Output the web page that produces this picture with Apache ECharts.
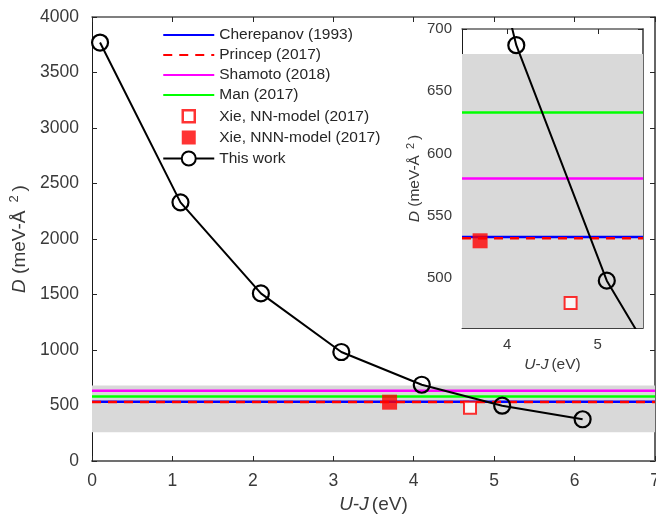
<!DOCTYPE html>
<html>
<head>
<meta charset="utf-8">
<script src="https://cdn.jsdelivr.net/npm/echarts@6/dist/echarts.min.js"></script>
<style>
html,body{margin:0;padding:0;background:#fff;}
#chart{width:656px;height:515px;}
</style>
</head>
<body>
<div id="chart"></div>
<script>
// ---- data ----
const thisWorkU = [0.1, 1.1, 2.1, 3.1, 4.1, 5.1, 6.1];
const thisWorkD = [3770, 2330, 1510, 982, 687, 498, 376];

const refNames = ['Cherepanov (1993)', 'Princep (2017)', 'Shamoto (2018)', 'Man (2017)'];
const refMain = [533, 532, 633, 580];    // values as drawn in main panel
const refInset = [533, 532, 580, 633];   // values as drawn in inset panel

const xieNN = [4.7, 480];
const xieNNN = [3.7, 530];
const band = [260, 680];

const mainXTicks = [0, 1, 2, 3, 4, 5, 6, 7];
const mainYTicks = [0, 500, 1000, 1500, 2000, 2500, 3000, 3500, 4000];
const insetXTicks = [4, 5];
const insetYTicks = [500, 550, 600, 650, 700];
const mainRange = {x: [0, 7], y: [0, 4000]};
const insetRange = {x: [3.5, 5.5], y: [460, 700]};

// ---- styling ----
const FONT = "'Liberation Sans', Arial, Helvetica, sans-serif";
const TXT = '#3a3a3a';
const refColors = ['#0000ff', '#ff0000', '#ff00ff', '#00ff00'];
const refTypes = ['solid', [9, 7], 'solid', 'solid'];

const chart = echarts.init(document.getElementById('chart'), null, {renderer: 'canvas'});

const plain = v => String(v);

function mkX(grid, range, ticks, pos, showLabel, lineColor, lineWidth, fs, name, nameGap, margin, nameFs) {
  return {
    type: 'value', gridIndex: grid, position: pos, min: range[0], max: range[1],
    name: name || '', nameLocation: 'middle', nameGap: nameGap || 0,
    nameTextStyle: {fontFamily: FONT, fontSize: nameFs, color: TXT,
      rich: {i: {fontStyle: 'italic', fontFamily: FONT, fontSize: nameFs, color: TXT},
             n: {fontFamily: FONT, fontSize: nameFs, color: TXT, padding: [0, 0, 0, 3]}}},
    axisLine: {show: true, onZero: false, lineStyle: {color: lineColor, width: lineWidth}},
    axisTick: {show: true, inside: true, length: 5, customValues: ticks, lineStyle: {color: '#262626', width: 1}},
    axisLabel: {show: showLabel, customValues: ticks, formatter: plain, margin: margin || 9, fontFamily: FONT, fontSize: fs, color: TXT},
    splitLine: {show: false}
  };
}
function mkY(grid, range, ticks, pos, showLabel, lineColor, lineWidth, fs, name, nameGap, margin, nameFs) {
  return {
    type: 'value', gridIndex: grid, position: pos, min: range[0], max: range[1],
    name: name || '', nameLocation: 'middle', nameGap: nameGap || 0, nameRotate: 90,
    nameTextStyle: {fontFamily: FONT, fontSize: nameFs, color: TXT,
      rich: {i: {fontStyle: 'italic', fontFamily: FONT, fontSize: nameFs, color: TXT},
             n: {fontFamily: FONT, fontSize: nameFs, color: TXT},
             s: {fontFamily: FONT, fontSize: Math.round(nameFs * 0.7), color: TXT,
                 padding: [0, Math.round(nameFs * 0.2), Math.round(nameFs * 0.6), Math.round(nameFs * 0.4)]}}},
    axisLine: {show: true, onZero: false, lineStyle: {color: lineColor, width: lineWidth}},
    axisTick: {show: true, inside: true, length: 5, customValues: ticks, lineStyle: {color: '#262626', width: 1}},
    axisLabel: {show: showLabel, customValues: ticks, formatter: plain, margin: margin || 10, fontFamily: FONT, fontSize: fs, color: TXT},
    splitLine: {show: false}
  };
}

const xLabelName = '{i|U}-{i|J}{n|(eV)}';
const yLabelName = '{i|D}{n| (meV-Å}{s|2}{n|)}';

const xAxes = [
  mkX(0, mainRange.x, mainXTicks, 'bottom', true, '#707070', 2, 17.5, xLabelName, 31, 11, 19),
  mkX(0, mainRange.x, mainXTicks, 'top', false, '#555555', 1.5, 17.5, '', 0, 0, 19),
  mkX(1, insetRange.x, insetXTicks, 'bottom', true, '#404040', 1, 15, xLabelName, 23, 9, 15.5),
  mkX(1, insetRange.x, insetXTicks, 'top', false, '#606060', 1.5, 15, '', 0, 0, 15.5)
];
const yAxes = [
  mkY(0, mainRange.y, mainYTicks, 'left', true, '#1a1a1a', 1, 17.5, yLabelName, 57, 13, 19),
  mkY(0, mainRange.y, mainYTicks, 'right', false, '#333333', 1.5, 17.5, '', 0, 0, 19),
  mkY(1, insetRange.y, insetYTicks, 'left', true, '#1a1a1a', 1, 15, yLabelName, 37, 10, 15.5),
  mkY(1, insetRange.y, insetYTicks, 'right', false, '#333333', 1.5, 15, '', 0, 0, 15.5)
];

function buildSeries(axisIdx, refVals, xRange, yRange) {
  const s = [];
  refNames.forEach((nm, i) => {
    const item = {
      name: nm, type: 'line', xAxisIndex: axisIdx, yAxisIndex: axisIdx,
      data: [[xRange[0], refVals[i]], [xRange[1], refVals[i]]],
      symbol: 'none', silent: true, animation: false, z: 2 + i * 0.1,
      lineStyle: {color: refColors[i], width: 2.5, type: refTypes[i]},
      itemStyle: {color: refColors[i]}
    };
    if (i === 0) {
      item.markArea = {
        silent: true, z: 1,
        itemStyle: {color: '#d9d9d9'},
        data: [[{yAxis: Math.max(band[0], yRange[0])}, {yAxis: Math.min(band[1], yRange[1])}]]
      };
    }
    s.push(item);
  });
  s.push({
    name: 'Xie, NN-model (2017)', type: 'scatter', xAxisIndex: axisIdx, yAxisIndex: axisIdx,
    data: [xieNN], symbol: 'rect', symbolSize: 12, animation: false, z: 3,
    itemStyle: {color: '#ffffff', borderColor: '#ff0000', borderWidth: 2}
  });
  s.push({
    name: 'Xie, NNN-model (2017)', type: 'scatter', xAxisIndex: axisIdx, yAxisIndex: axisIdx,
    data: [xieNNN], symbol: 'rect', symbolSize: 15, animation: false, z: 3,
    itemStyle: {color: '#ff0000'}
  });
  s.push({
    name: 'This work', type: 'line', xAxisIndex: axisIdx, yAxisIndex: axisIdx,
    data: thisWorkU.map((u, i) => [u, thisWorkD[i]]),
    symbol: 'circle', symbolSize: 16, showAllSymbol: true, animation: false, z: 4,
    lineStyle: {color: '#000', width: 2},
    itemStyle: {color: 'rgba(0,0,0,0)', borderColor: '#000', borderWidth: 2.2}
  });
  return s;
}

const series = buildSeries(0, refMain, mainRange.x, mainRange.y)
  .concat(buildSeries(2, refInset, insetRange.x, insetRange.y));

const hideSym = {opacity: 0};
// legend icons drawn inside a 51x16 legend box (leading move-to points fix the box)
const openSquareIcon = 'path://M0,0M51,16M19.5,2h12v12h-12z';
const filledSquareIcon = 'path://M0,0M51,16M18.5,1h14v14h-14z';
const lineCircleIcon = 'path://M0,0M51,16M0,8H18.5M32.5,8H51M18.5,8a7,7 0 1,0 14,0a7,7 0 1,0 -14,0z';

chart.setOption({
  backgroundColor: '#ffffff',
  animation: false,
  grid: [
    {left: 92, right: 1, top: 17, bottom: 54, containLabel: false, outerBoundsMode: 'none'},
    {left: 462, right: 13, top: 29, bottom: 187, containLabel: false, outerBoundsMode: 'none',
     show: true, backgroundColor: '#ffffff', borderWidth: 0}
  ],
  legend: {
    orient: 'vertical', left: 157, top: 22,
    itemWidth: 51, itemHeight: 16, itemGap: 4,
    data: [
      {name: 'Cherepanov (1993)', itemStyle: hideSym},
      {name: 'Princep (2017)', itemStyle: hideSym},
      {name: 'Shamoto (2018)', itemStyle: hideSym},
      {name: 'Man (2017)', itemStyle: hideSym},
      {name: 'Xie, NN-model (2017)', icon: openSquareIcon,
       itemStyle: {color: '#ffffff', borderColor: '#ff0000', borderWidth: 2.5}},
      {name: 'Xie, NNN-model (2017)', icon: filledSquareIcon},
      {name: 'This work', icon: lineCircleIcon,
       itemStyle: {color: '#ffffff', borderColor: '#000', borderWidth: 2}}
    ],
    textStyle: {fontFamily: FONT, fontSize: 15.5, color: '#262626', lineHeight: 14},
    selectedMode: false
  },
  xAxis: xAxes,
  yAxis: yAxes,
  series: series
});
</script>
</body>
</html>
